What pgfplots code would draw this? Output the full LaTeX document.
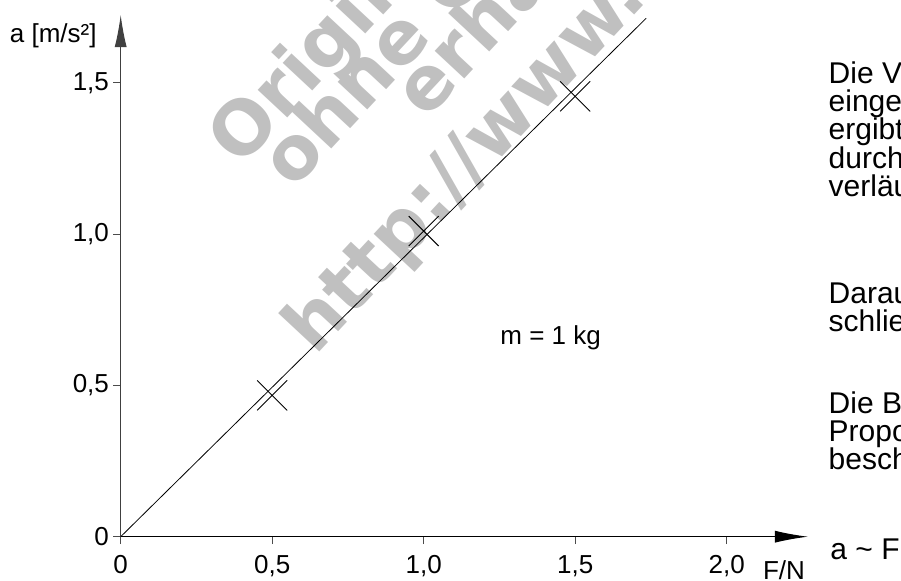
\documentclass[border=0pt]{standalone}
\usepackage{fontspec}
\setmainfont{Liberation Sans}
\newfontfamily\wmfont{DejaVu Sans}
\usepackage{pgfplots}
\pgfplotsset{compat=1.18}
\usetikzlibrary{arrows.meta}
\definecolor{wmgray}{HTML}{C0C0C0}
\begin{document}
\begin{tikzpicture}
\useasboundingbox (0,0) rectangle (450.5pt,-290.5pt);
\clip (0,0) rectangle (450.5pt,-290.5pt);
% watermark
\begin{scope}[x=0.5pt,y=-0.5pt]
 \begin{scope}[every node/.style={anchor=base west, inner sep=0pt, rotate=47, text=wmgray, font=\wmfont\bfseries\fontsize{37pt}{37pt}\selectfont}]
 \node at (240.5,168.7) {Originaldokumente};
 \node at (292.9,190.5) {ohne Gewähr};
 \node at (425.9,120.5) {erhältlich unter};
 \node at (315.4,357.1) {http://www.example.de};
 \end{scope}
\end{scope}
\begin{axis}[
  at={(60.35pt,-268.35pt)}, anchor=origin,
  x=151.5pt, y=151.3pt,
  xmin=0, xmax=2.268, ymin=0, ymax=1.724,
  axis lines=left,
  axis line style={line width=0.5pt},
  x axis line style={black, -{Latex[length=16.5pt,width=6pt]}},
  y axis line style={black!75, -{Latex[length=16pt,width=6pt]}},
  xtick={0,0.5,1,1.5,2},
  xticklabels={0,{0,5},{1,0},{1,5},{2,0}},
  ytick={0,0.5,1,1.5},
  yticklabels={0,{0,5},{1,0},{1,5}},
  tick align=outside,
  major tick length=3.7pt,
  tick style={line width=0.5pt, black!70},
  ticklabel style={font=\fontsize{13pt}{15pt}\selectfont, inner sep=0pt},
  xticklabel shift=5.5pt,
  yticklabel shift=2pt,
  clip=false,
]
\addplot[black, line width=0.4pt] coordinates {(0,0) (1.734,1.713)};
\addplot[only marks, mark=x, mark size=10.6pt, mark options={black, line width=0.45pt}] coordinates {(0.5,0.467) (1.0,1.01) (1.5,1.455)};
\end{axis}
\begin{scope}[x=0.5pt,y=-0.5pt]
 \node[anchor=base east, inner sep=0pt, font=\fontsize{13pt}{15pt}\selectfont] at (97,43) {a [m/s²]};
 \node[anchor=base west, inner sep=0pt, font=\fontsize{13pt}{15pt}\selectfont] at (762.7,580) {F/N};
 \node[anchor=base west, inner sep=0pt, font=\fontsize{13pt}{15pt}\selectfont] at (500,345) {m = 1 kg};
 \begin{scope}[every node/.style={anchor=base west, inner sep=0pt, font=\fontsize{15pt}{17pt}\selectfont}]
 \node at (828.3,83.3) {Die Verbindungslinie der};
 \node at (828.3,111.6) {eingetragenen Messpunkte};
 \node at (828.3,139.9) {ergibt eine Gerade, die};
 \node at (828.3,168.2) {durch den Ursprung};
 \node at (828.3,196.5) {verläuft.};
 \node at (828.3,303.3) {Daraus kann man};
 \node at (828.3,331.6) {schließen:};
 \node at (828.3,413.3) {Die Beziehung ist eine};
 \node at (828.3,441.6) {Proportionalität und wird};
 \node at (828.3,469.9) {beschrieben durch:};
 \node at (830,560) {a \textasciitilde{} F};
 \end{scope}
\end{scope}
\end{tikzpicture}
\end{document}
